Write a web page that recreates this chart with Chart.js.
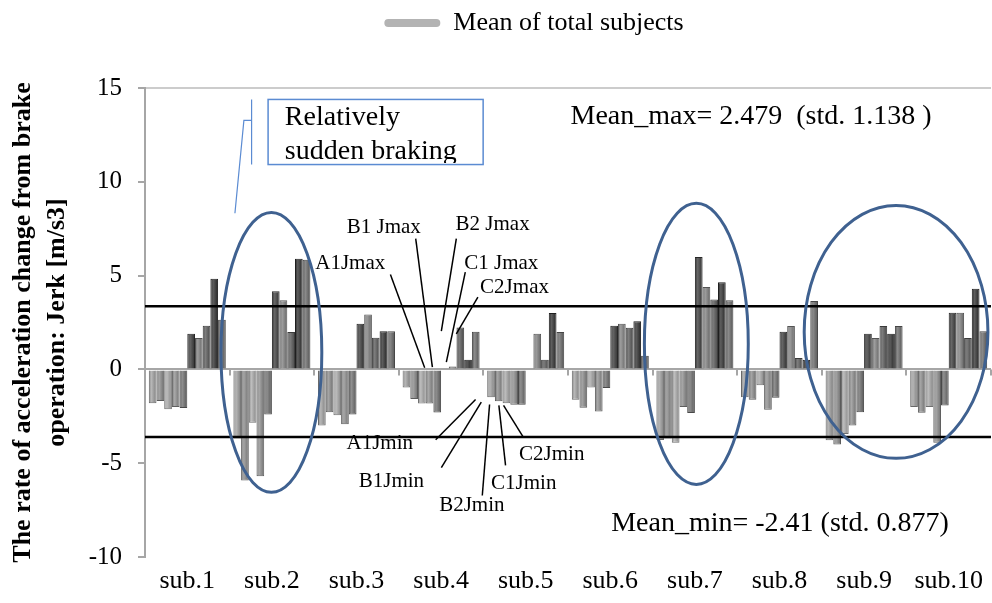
<!DOCTYPE html>
<html>
<head>
<meta charset="utf-8">
<script src="https://cdn.jsdelivr.net/npm/chart.js@4.4.1/dist/chart.umd.min.js"></script>
<style>
  html, body { margin: 0; padding: 0; background: #fff; }
  #wrap { width: 992px; height: 603px; }
</style>
</head>
<body>
<div id="wrap"><canvas id="c" width="992" height="603"></canvas></div>
<script>
// Jerk per subject and braking scenario [m/s3]
const subjects = ['sub.1', 'sub.2', 'sub.3', 'sub.4', 'sub.5', 'sub.6', 'sub.7', 'sub.8', 'sub.9', 'sub.10'];

const A1Jmin = [-1.80, -3.69, -2.99, -0.96, -1.48, -1.62, -3.76, -1.48, -3.78, -2.01];
const B1Jmin = [-1.69, -5.92, -2.28, -1.58, -1.70, -2.04, -3.69, -1.62, -4.00, -2.31];
const B2Jmin = [-2.12, -2.84, -2.45, -1.82, -1.80, -0.96, -3.91, -0.85, -3.45, -2.01];
const C1Jmin = [-2.01, -5.70, -2.93, -1.82, -1.88, -2.24, -2.01, -2.15, -2.99, -3.91];
const C2Jmin = [-2.06, -2.40, -2.40, -2.30, -1.88, -0.99, -2.32, -1.51, -2.28, -1.92];

const A1Jmax = [1.90, 4.17, 2.44, 0.05, 0.05, 2.33, 5.99, 2.01, 1.90, 3.02];
const B1Jmax = [1.67, 3.68, 2.93, 0.15, 1.90, 2.44, 4.39, 2.31, 1.67, 3.02];
const B2Jmax = [2.33, 1.99, 1.69, 2.23, 0.52, 2.22, 3.72, 0.61, 2.31, 1.67];
const C1Jmax = [4.83, 5.90, 2.03, 0.52, 3.00, 2.56, 4.65, 0.52, 1.90, 4.30];
const C2Jmax = [2.65, 5.85, 2.03, 2.01, 1.99, 0.73, 3.68, 3.64, 2.31, 2.03];

// Levels of the two "mean of total subjects" reference lines
const meanLevels = [3.36, -3.60];

const seriesNames  = ['A1Jmin', 'B1Jmin', 'B2Jmin', 'C1Jmin', 'C2Jmin',
                      'A1Jmax', 'B1 Jmax', 'B2 Jmax', 'C1 Jmax', 'C2Jmax'];
const seriesValues = [A1Jmin, B1Jmin, B2Jmin, C1Jmin, C2Jmin,
                      A1Jmax, B1Jmax, B2Jmax, C1Jmax, C2Jmax];
const seriesColors = ['#a2a2a2', '#8c8c8c', '#ababab', '#909090', '#707070',
                      '#3c3c3c', '#818181', '#5a5a5a', '#303030', '#6a6a6a'];

const CAT_PCT = 0.91;
const N_SERIES = seriesValues.length;
const SERIF = "'Liberation Serif', 'Times New Roman', serif";

Chart.defaults.font.family = SERIF;
Chart.defaults.color = '#000';

function shade(hex, f) {
  const n = parseInt(hex.slice(1), 16);
  let r = n >> 16, g = (n >> 8) & 255, b = n & 255;
  const t = f < 0 ? 0 : 255, p = Math.abs(f);
  r = Math.round((t - r) * p + r);
  g = Math.round((t - g) * p + g);
  b = Math.round((t - b) * p + b);
  return 'rgb(' + r + ',' + g + ',' + b + ')';
}

// Cylinder-like horizontal shading across each column
function barFill(base) {
  return (c) => {
    const chart = c.chart;
    const xs = chart.scales && chart.scales.x;
    if (c.type !== 'data' || !xs || !chart.chartArea) return base;
    const step = xs.getPixelForValue(1) - xs.getPixelForValue(0);
    const bw = step * CAT_PCT / N_SERIES;
    const cx = xs.getPixelForValue(c.dataIndex) + (c.datasetIndex - (N_SERIES - 1) / 2) * bw;
    const g = chart.ctx.createLinearGradient(cx - bw / 2, 0, cx + bw / 2, 0);
    g.addColorStop(0, shade(base, -0.12));
    g.addColorStop(0.35, shade(base, 0.22));
    g.addColorStop(1, shade(base, -0.22));
    return g;
  };
}

const barSets = seriesValues.map((vals, i) => ({
  label: seriesNames[i],
  data: vals,
  backgroundColor: barFill(seriesColors[i]),
  borderColor: shade(seriesColors[i], -0.35),
  borderWidth: 1,
  categoryPercentage: CAT_PCT,
  barPercentage: 1.0
}));

// Legend spacing and horizontal placement
const legendSpace = {
  id: 'legendSpace',
  beforeLayout(chart) {
    const lg = chart.legend;
    if (lg && !lg._patched) {
      const fit = lg.fit;
      lg.fit = function () { fit.call(this); this.height = 88; };
      lg._patched = true;
    }
  },
  afterLayout(chart) {
    if (chart.legend) { chart.legend.left += 38; chart.legend.right += 38; }
  }
};

// Zero axis with category tick marks, and the mean reference lines
const axisLines = {
  id: 'axisLines',
  afterDatasetsDraw(chart) {
    const ctx = chart.ctx, ys = chart.scales.y, area = chart.chartArea;
    const step = (area.right - area.left) / subjects.length;
    const y0 = ys.getPixelForValue(0);
    ctx.save();
    ctx.strokeStyle = '#a6a6a6';
    ctx.lineWidth = 2;
    ctx.beginPath();
    for (let i = 1; i <= subjects.length; i++) {
      const x = Math.round(area.left + i * step);
      ctx.moveTo(x, y0);
      ctx.lineTo(x, y0 + 6);
    }
    ctx.stroke();
    ctx.strokeStyle = '#000';
    ctx.lineWidth = 2.5;
    meanLevels.forEach((lv) => {
      const y = ys.getPixelForValue(lv);
      ctx.beginPath();
      ctx.moveTo(area.left, y);
      ctx.lineTo(area.right, y);
      ctx.stroke();
    });
    ctx.restore();
  }
};

// Callouts, ellipses and summary text placed in category/value units
const notes = {
  id: 'notes',
  afterDraw(chart) {
    const ctx = chart.ctx, ys = chart.scales.y, area = chart.chartArea;
    const X = (u) => area.left + u * (area.right - area.left) / subjects.length;
    const Y = (v) => ys.getPixelForValue(v);
    ctx.save();

    // highlighted subjects
    ctx.strokeStyle = '#3f6190';
    ctx.lineWidth = 3;
    [[1.494, 0.906, 0.596, 7.46], [6.517, 1.36, 0.614, 7.49], [8.878, 2.0, 1.086, 6.74]].forEach(([u, v, ru, rv]) => {
      const cx = X(u), cy = Y(v);
      ctx.beginPath();
      ctx.ellipse(cx, cy, X(u + ru) - cx, cy - Y(v + rv), 0, 0, Math.PI * 2);
      ctx.stroke();
    });

    // text box with callout
    const bx0 = X(1.455), bx1 = X(3.997), by0 = Y(14.39), by1 = Y(10.92);
    ctx.strokeStyle = '#5b8bd2';
    ctx.lineWidth = 1.5;
    ctx.strokeRect(bx0, by0, bx1 - bx0, by1 - by0);
    ctx.lineWidth = 1.2;
    ctx.beginPath();
    ctx.moveTo(X(1.260), Y(14.39)); ctx.lineTo(X(1.260), Y(10.92));
    ctx.moveTo(X(1.260), Y(13.27)); ctx.lineTo(X(1.169), Y(13.27));
    ctx.lineTo(X(1.063), Y(8.32));
    ctx.stroke();
    ctx.save();
    ctx.beginPath();
    ctx.rect(bx0, by0, bx1 - bx0, by1 - by0 - 1.5);
    ctx.clip();
    ctx.fillStyle = '#000';
    ctx.font = '28px ' + SERIF;
    ctx.textAlign = 'left';
    ctx.textBaseline = 'alphabetic';
    ctx.fillText('Relatively', X(1.653), Y(13.04));
    ctx.fillText('sudden braking', X(1.653), Y(11.20));
    ctx.restore();

    // series labels with leader lines
    const labels = [
      ['B1 Jmax', 2.822, 7.54, 3.200, 6.97, 3.397, 0.12],
      ['B2 Jmax', 4.109, 7.73, 3.680, 6.97, 3.503, 2.04],
      ['A1Jmax', 2.426, 5.63, 2.901, 5.06, 3.306, 0.09],
      ['C1 Jmax', 4.211, 5.67, 3.786, 5.19, 3.562, 0.39],
      ['C2Jmax', 4.368, 4.36, 3.935, 3.85, 3.680, 1.90],
      ['A1Jmin', 2.775, -3.93, 3.436, -3.75, 3.908, -1.60],
      ['B1Jmin', 2.913, -5.95, 3.503, -5.24, 3.975, -1.74],
      ['B2Jmin', 3.863, -7.25, 3.987, -6.72, 4.073, -1.87],
      ['C1Jmin', 4.477, -6.09, 4.262, -5.12, 4.183, -1.92],
      ['C2Jmin', 4.808, -4.53, 4.475, -3.64, 4.238, -1.92]
    ];
    ctx.strokeStyle = '#000';
    ctx.lineWidth = 1.5;
    ctx.fillStyle = '#000';
    ctx.font = '21px ' + SERIF;
    ctx.textAlign = 'center';
    ctx.textBaseline = 'middle';
    labels.forEach(([t, tu, tv, u0, v0, u1, v1]) => {
      ctx.fillText(t, X(tu), Y(tv));
      ctx.beginPath();
      ctx.moveTo(X(u0), Y(v0));
      ctx.lineTo(X(u1), Y(v1));
      ctx.stroke();
    });

    // summary statistics
    ctx.font = '28px ' + SERIF;
    ctx.textAlign = 'left';
    ctx.textBaseline = 'alphabetic';
    ctx.fillText('Mean_max= 2.479  (std. 1.138 )', X(5.03), Y(13.10));
    ctx.fillText('Mean_min= -2.41 (std. 0.877)', X(5.51), Y(-8.62));

    ctx.restore();
  }
};

new Chart(document.getElementById('c'), {
  type: 'bar',
  data: { labels: subjects, datasets: barSets },
  options: {
    responsive: false,
    animation: false,
    devicePixelRatio: 1,
    layout: { padding: { left: 0, right: 0, top: 0, bottom: 5 } },
    plugins: {
      legend: {
        position: 'top',
        onClick: null,
        labels: {
          font: { size: 26, family: SERIF },
          color: '#000',
          boxWidth: 56,
          boxHeight: 8,
          padding: 10,
          useBorderRadius: true,
          borderRadius: 4,
          generateLabels: () => [{
            text: 'Mean of total subjects',
            fillStyle: '#b3b3b3',
            strokeStyle: '#b3b3b3',
            lineWidth: 0,
            borderRadius: 4,
            hidden: false
          }]
        }
      },
      tooltip: { enabled: false }
    },
    scales: {
      x: {
        type: 'category',
        position: 'bottom',
        offset: true,
        grid: { display: false, drawTicks: false },
        border: { display: false },
        ticks: { font: { size: 26 }, color: '#000', padding: 9, autoSkip: false, maxRotation: 0 },
        afterFit(s) { s.height = 41; }
      },
      y: {
        type: 'linear',
        position: 'left',
        min: -10,
        max: 15,
        ticks: { stepSize: 5, font: { size: 25 }, color: '#000', padding: 16 },
        grid: {
          color: (c) => (c.tick && c.tick.value === 0) ? '#a6a6a6'
                      : (c.tick && c.tick.value === 15) ? '#cccccc' : 'rgba(0,0,0,0)',
          lineWidth: 2,
          tickColor: '#a6a6a6',
          tickLength: 7,
          drawTicks: true
        },
        border: { display: true, color: '#a6a6a6', width: 2 },
        title: {
          display: true,
          text: ['The rate of acceleration change from brake', 'operation: Jerk [m/s3]'],
          font: { size: 26, weight: 'bold', lineHeight: 1.31 },
          color: '#000',
          padding: { top: 6, bottom: 0 }
        },
        afterFit(s) { s.width = 145; }
      }
    }
  },
  plugins: [legendSpace, axisLines, notes]
});
</script>
</body>
</html>
